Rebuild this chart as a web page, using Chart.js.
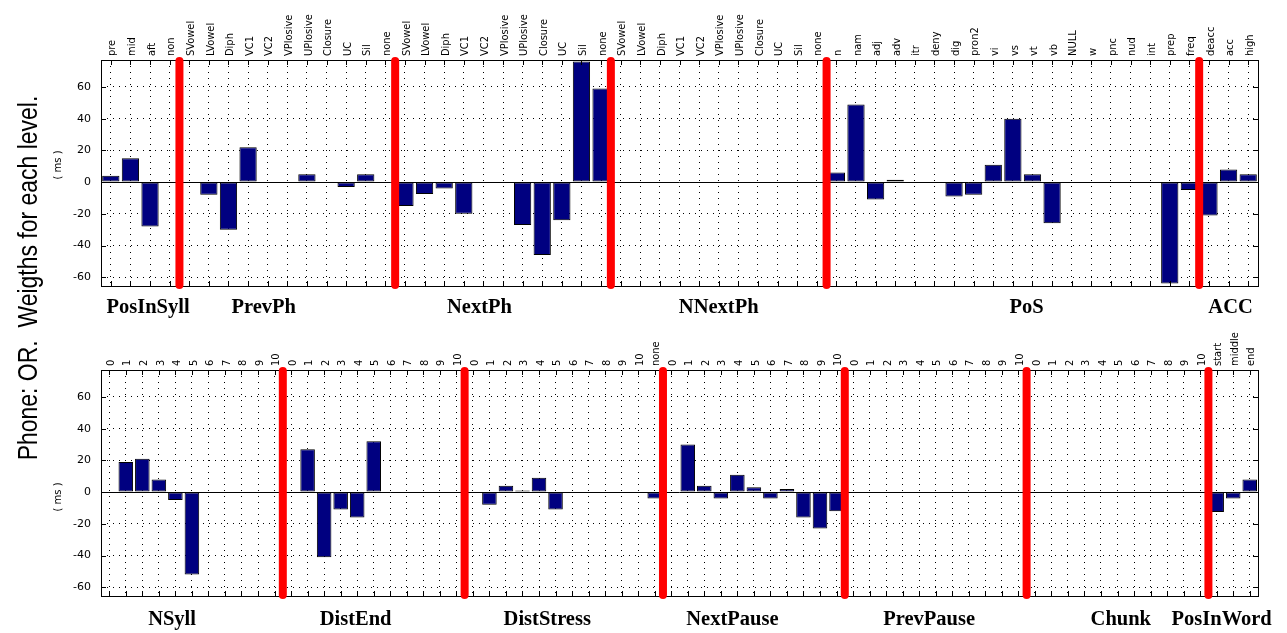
<!DOCTYPE html>
<html>
<head>
<meta charset="utf-8">
<script src="https://cdn.jsdelivr.net/npm/chart.js@4.4.1/dist/chart.umd.min.js"></script>
<style>
  html, body { margin: 0; padding: 0; background: #fff; }
  #wrap { position: relative; width: 1287px; height: 633px; overflow: hidden; }
  canvas { position: absolute; left: 0; }
  #topChart { top: 0; }
  #bottomChart { top: 312px; }
  .title {
    position: absolute; left: 28px; top: 278px;
    transform: translate(-50%, -50%) rotate(-90deg) scaleX(0.82);
    font: 28px "Liberation Sans", Arial, sans-serif;
    white-space: pre; color: #000;
  }
  .unit {
    position: absolute; left: 57px;
    transform: translate(-50%, -50%) rotate(-90deg);
    font: 10px "DejaVu Sans", sans-serif;
    white-space: pre; color: #000;
  }
</style>
</head>
<body>
<div id="wrap">
  <canvas id="topChart" width="1287" height="322"></canvas>
  <canvas id="bottomChart" width="1287" height="321"></canvas>
  <div class="title">Phone: OR.  Weigths for each level.</div>
  <div class="unit" style="top:165px">( ms )</div>
  <div class="unit" style="top:497px">( ms )</div>
</div>
<script>
// --- data: upper panel ---
const topGroups = ['PosInSyll', 'PrevPh', 'NextPh', 'NNextPh', 'PoS', 'ACC'];
const topGroupSizes = [4, 11, 11, 11, 19, 3];
const phoneClasses = ['SVowel', 'LVowel', 'Diph', 'VC1', 'VC2', 'VPlosive', 'UPlosive', 'Closure', 'UC', 'Sil', 'none'];
const posTags = ['n', 'nam', 'adj', 'adv', 'itr', 'deny', 'dig', 'pron2', 'vi', 'vs', 'vt', 'vb', 'NULL', 'w', 'pnc', 'nud', 'int', 'prep', 'freq'];
const topLabels = ['pre', 'mid', 'aft', 'non', ...phoneClasses, ...phoneClasses, ...phoneClasses, ...posTags, 'deacc', 'acc', 'high'];
const topValues = [
  4, 15, -28, 0,
  0, -8, -30, 22, 0, 0, 5, 0, -3, 5, 0,
  -15, -7.5, -4, -20, 0, 0, -27, -46, -24, 76, 59,
  0, 0, 0, 0, 0, 0, 0, 0, 0, 0, 0,
  6, 49, -11, 1.5, 0, 0, -9, -8, 11, 40, 5, -26, 0, 0, 0, 0, 0, -64, -5,
  -21, 8, 5
];

// --- data: lower panel ---
const bottomGroups = ['NSyll', 'DistEnd', 'DistStress', 'NextPause', 'PrevPause', 'Chunk', 'PosInWord'];
const bottomGroupSizes = [11, 11, 12, 11, 11, 11, 3];
const counts = ['0', '1', '2', '3', '4', '5', '6', '7', '8', '9', '10'];
const bottomLabels = [...counts, ...counts, ...counts, 'none', ...counts, ...counts, ...counts, 'start', 'middle', 'end'];
const bottomValues = [
  0, 19, 21, 8, -5, -52, 0, 0, 0, 0, 0,
  0, 27, -41, -11, -16, 32, 0, 0, 0, 0, 0,
  0, -8, 4, 1, 9, -11, 0, 0, 0, 0, 0, -4,
  0, 30, 4, -4, 11, 3, -4, 2, -16, -23, -12,
  0, 0, 0, 0, 0, 0, 0, 0, 0, 0, 0,
  0, 0, 0, 0, 0, 0, 0, 0, 0, 0, 0,
  -12.5, -4, 8
];

const yTicks = [-60, -40, -20, 0, 20, 40, 60];

// frame, inner ticks, zero line, red separators and group names
const panelDecor = {
  id: 'panelDecor',
  afterDatasetsDraw(chart, args, opts) {
    const { ctx, chartArea: a, scales: { x, y } } = chart;
    ctx.save();
    ctx.strokeStyle = '#000';
    ctx.lineWidth = 1;
    // zero line
    const y0 = Math.round(y.getPixelForValue(0)) + 0.5;
    ctx.beginPath();
    ctx.moveTo(a.left, y0);
    ctx.lineTo(a.right, y0);
    ctx.stroke();
    // inner tick marks
    ctx.beginPath();
    x.ticks.forEach((t, i) => {
      const px = Math.round(x.getPixelForValue(i)) + 0.5;
      ctx.moveTo(px, a.top); ctx.lineTo(px, a.top + 5);
      ctx.moveTo(px, a.bottom); ctx.lineTo(px, a.bottom - 5);
    });
    yTicks.forEach(v => {
      const py = Math.round(y.getPixelForValue(v)) + 0.5;
      ctx.moveTo(a.left, py); ctx.lineTo(a.left + 5, py);
      ctx.moveTo(a.right, py); ctx.lineTo(a.right - 5, py);
    });
    ctx.stroke();
    // frame
    ctx.strokeRect(Math.round(a.left) + 0.5, Math.round(a.top) + 0.5, Math.round(a.right - a.left), Math.round(a.bottom - a.top));
    // red separators between groups
    ctx.strokeStyle = '#ff0000';
    ctx.lineWidth = 8;
    ctx.lineCap = 'round';
    let k = 0;
    opts.sizes.slice(0, -1).forEach(n => {
      k += n;
      const px = (x.getPixelForValue(k - 1) + x.getPixelForValue(k)) / 2;
      ctx.beginPath();
      ctx.moveTo(px, a.top + 1);
      ctx.lineTo(px, a.bottom - 1);
      ctx.stroke();
    });
    // group names under the panel
    ctx.fillStyle = '#000';
    ctx.font = 'bold 20.5px "Liberation Serif", "Times New Roman", serif';
    ctx.textAlign = 'center';
    ctx.textBaseline = 'middle';
    opts.groups.forEach((g, i) => {
      ctx.fillText(g, x.getPixelForValue(opts.labelAt[i]), a.bottom + opts.nameGap);
    });
    ctx.restore();
  }
};

function makePanel(canvasId, labels, values, groups, sizes, labelAt, axisHeight, nameGap) {
  const el = document.getElementById(canvasId);
  return new Chart(el.getContext('2d'), {
    type: 'bar',
    data: {
      labels: labels,
      datasets: [{
        data: values,
        backgroundColor: '#000080',
        borderColor: '#000000',
        borderWidth: 1,
        borderSkipped: false,
        barPercentage: 0.88,
        categoryPercentage: 1.0
      }]
    },
    options: {
      responsive: false,
      animation: false,
      events: [],
      layout: { padding: { left: 0, top: 0, right: 29, bottom: el.height - axisHeight - 226 } },
      scales: {
        x: {
          position: 'top',
          offset: true,
          afterFit: s => { s.height = axisHeight; },
          grid: { offset: false, color: '#000', lineWidth: 1, drawTicks: false },
          border: { display: false, dash: [1, 5] },
          ticks: {
            autoSkip: false, minRotation: 90, maxRotation: 90, padding: 4, labelOffset: 15,
            color: '#000', font: { family: '"DejaVu Sans Condensed", "DejaVu Sans", sans-serif', size: 11 }
          }
        },
        y: {
          min: -65.5,
          max: 77,
          afterFit: s => { s.width = 101; },
          afterBuildTicks: s => { s.ticks = yTicks.map(v => ({ value: v })); },
          grid: { color: '#000', lineWidth: 1, drawTicks: false },
          border: { display: false, dash: [1, 5] },
          ticks: {
            padding: 10, color: '#000',
            font: { family: '"DejaVu Sans", sans-serif', size: 11 }
          }
        }
      },
      plugins: {
        legend: { display: false },
        tooltip: { enabled: false },
        panelDecor: { groups: groups, sizes: sizes, labelAt: labelAt, nameGap: nameGap }
      }
    },
    plugins: [panelDecor]
  });
}

makePanel('topChart', topLabels, topValues, topGroups, topGroupSizes,
  [1.9, 7.8, 18.8, 31, 46.7, 57.1], 60, 22);
makePanel('bottomChart', bottomLabels, bottomValues, bottomGroups, bottomGroupSizes,
  [3.8, 14.9, 26.5, 37.7, 49.6, 61.2, 67.3], 58, 24);
</script>
</body>
</html>
